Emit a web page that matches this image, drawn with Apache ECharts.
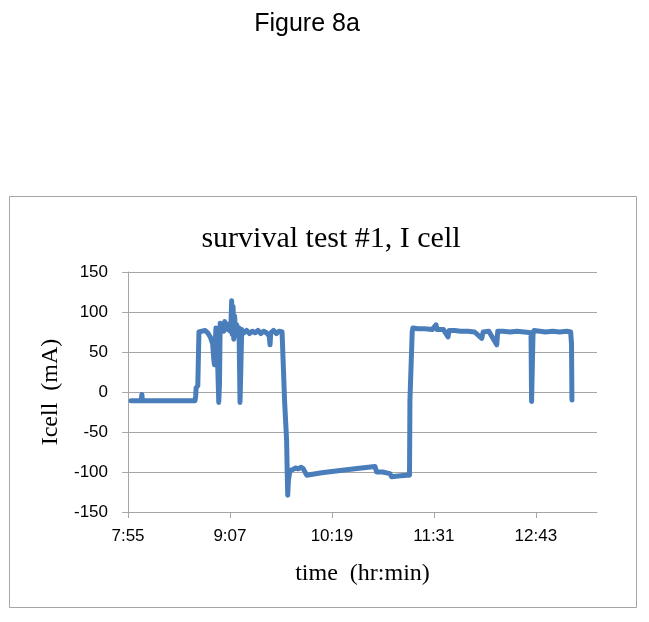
<!DOCTYPE html>
<html>
<head>
<meta charset="utf-8">
<script src="https://cdn.jsdelivr.net/npm/echarts@6/dist/echarts.min.js"></script>
<style>
html,body{margin:0;padding:0;background:#fff;}
#chart{width:649px;height:622px;}
</style>
</head>
<body>
<div id="chart"></div>
<script>
// time in minutes since midnight, current in mA
const timeMin = [
  477.3, 484.5, 485.0, 485.4, 522.5, 523.0, 523.3, 524.5, 525.3, 526.5,
  529.6, 531.5, 533.5, 535.0, 535.8, 536.3, 536.8, 537.3, 538.0, 538.6,
  539.3, 539.8, 540.3, 541.0, 542.0, 542.8, 543.5, 544.2, 545.0, 545.8,
  546.6, 547.3, 548.0, 548.4, 548.8, 549.4, 549.9, 550.5, 551.2, 552.0,
  552.8, 553.6, 554.3, 554.9, 555.5, 557.0, 559.0, 561.0, 563.0, 565.0,
  567.0, 569.0, 571.0, 573.0, 575.0, 575.5, 576.0, 578.0, 580.0, 582.0,
  584.0, 585.4, 585.8, 586.5, 587.2, 587.6, 588.0, 588.5, 589.6, 591.5,
  593.5, 595.5, 597.5, 599.0, 600.0, 601.4, 602.3, 612.0, 625.0, 637.0,
  649.6, 650.8, 655.0, 660.2, 661.4, 666.0, 672.0, 674.0, 674.3, 675.3,
  675.9, 676.4, 680.0, 685.0, 690.0, 692.7, 693.5, 698.0, 701.2, 702.0,
  706.0, 710.0, 715.0, 720.0, 725.0, 726.0, 730.0, 735.6, 736.3, 740.0,
  745.0, 750.0, 755.0, 759.8, 760.2, 760.8, 761.2, 762.0, 766.0, 770.0,
  775.0, 780.0, 785.0, 787.8, 788.4, 788.7
];
const icell = [
  -11, -11, -3, -11, -11, -5, 5, 8, 75, 77,
  77, 74, 68, 60, 40, 34, 60, 80, 72, 30,
  -13, 10, 86, 78, 84, 76, 88, 80, 85, 78,
  84, 76, 90, 114, 72, 107, 66, 95, 70, 84,
  74, 80, -13, 30, 78, 74, 77, 73, 76, 74,
  77, 73, 76, 74, 70, 59, 74, 77, 73, 76,
  75, 74, -12, -12, -60, -98, -129, -110, -98, -97,
  -95, -96, -94, -96, -95, -104, -105, -101, -98, -95.5,
  -93, -100, -100, -102, -106, -105, -104, -104, -10, -10,
  75, 80, 79, 79, 78, 84, 78, 78, 69, 77,
  77, 76, 76, 75, 67, 75, 76, 59, 76, 76,
  75, 76, 75, 74, -12, -12, 72, 77, 76, 75,
  76, 75, 76, 75, 60, -10
];
const xTickValues = [475.2, 547.2, 619.2, 691.2, 763.2];
const xMin = 475.2, xMax = 806.4;

function fmtTime(v) {
  const m = Math.floor(v + 1e-6);
  const h = Math.floor(m / 60);
  const mm = m % 60;
  return h + ':' + (mm < 10 ? '0' : '') + mm;
}

const chart = echarts.init(document.getElementById('chart'), null, {renderer: 'canvas'});
const seriesData = timeMin.map((t, i) => [t, icell[i]]);
const gray = '#A6A6A6';
chart.setOption({
  animation: false,
  backgroundColor: '#fff',
  title: [
    {text: 'Figure 8a', left: 302, top: 7, textAlign: 'center',
     textStyle: {fontFamily: 'Liberation Sans', fontSize: 25, fontWeight: 'normal', color: '#000'}},
    {text: 'survival test #1, I cell', left: 326, top: 219, textAlign: 'center',
     textStyle: {fontFamily: 'Liberation Serif', fontSize: 30, fontWeight: 'normal', color: '#000'}}
  ],
  graphic: [{
    type: 'rect', shape: {x: 9.5, y: 196.5, width: 627, height: 411},
    style: {fill: 'none', stroke: gray, lineWidth: 1}, silent: true, z: -1
  }],
  grid: {left: 128, top: 272, width: 469, height: 240, containLabel: false},
  xAxis: {
    type: 'value', min: xMin, max: xMax,
    name: 'time  (hr:min)', nameLocation: 'middle', nameGap: 50,
    nameTextStyle: {fontFamily: 'Liberation Serif', fontSize: 24, color: '#000'},
    axisLine: {show: true, onZero: false, lineStyle: {color: gray, width: 1}},
    axisTick: {show: true, inside: false, length: 6, customValues: xTickValues, lineStyle: {color: gray}},
    axisLabel: {customValues: xTickValues, formatter: fmtTime, margin: 16,
      fontFamily: 'Liberation Sans', fontSize: 17, color: '#000'},
    splitLine: {show: false}
  },
  yAxis: {
    type: 'value', min: -150, max: 150, interval: 50,
    name: 'Icell  (mA)', nameLocation: 'middle', nameGap: 64, nameRotate: 90,
    nameTextStyle: {fontFamily: 'Liberation Serif', fontSize: 24, color: '#000'},
    axisLine: {show: true, lineStyle: {color: gray, width: 1}},
    axisTick: {show: true, inside: false, length: 6, lineStyle: {color: gray}},
    axisLabel: {margin: 20, fontFamily: 'Liberation Sans', fontSize: 17, color: '#000'},
    splitLine: {show: true, lineStyle: {color: gray, width: 1}}
  },
  series: [{
    type: 'line', data: seriesData, showSymbol: false,
    lineStyle: {color: '#4A7EBB', width: 5, join: 'round', cap: 'round'},
    itemStyle: {color: '#4A7EBB'}
  }]
});
</script>
</body>
</html>
